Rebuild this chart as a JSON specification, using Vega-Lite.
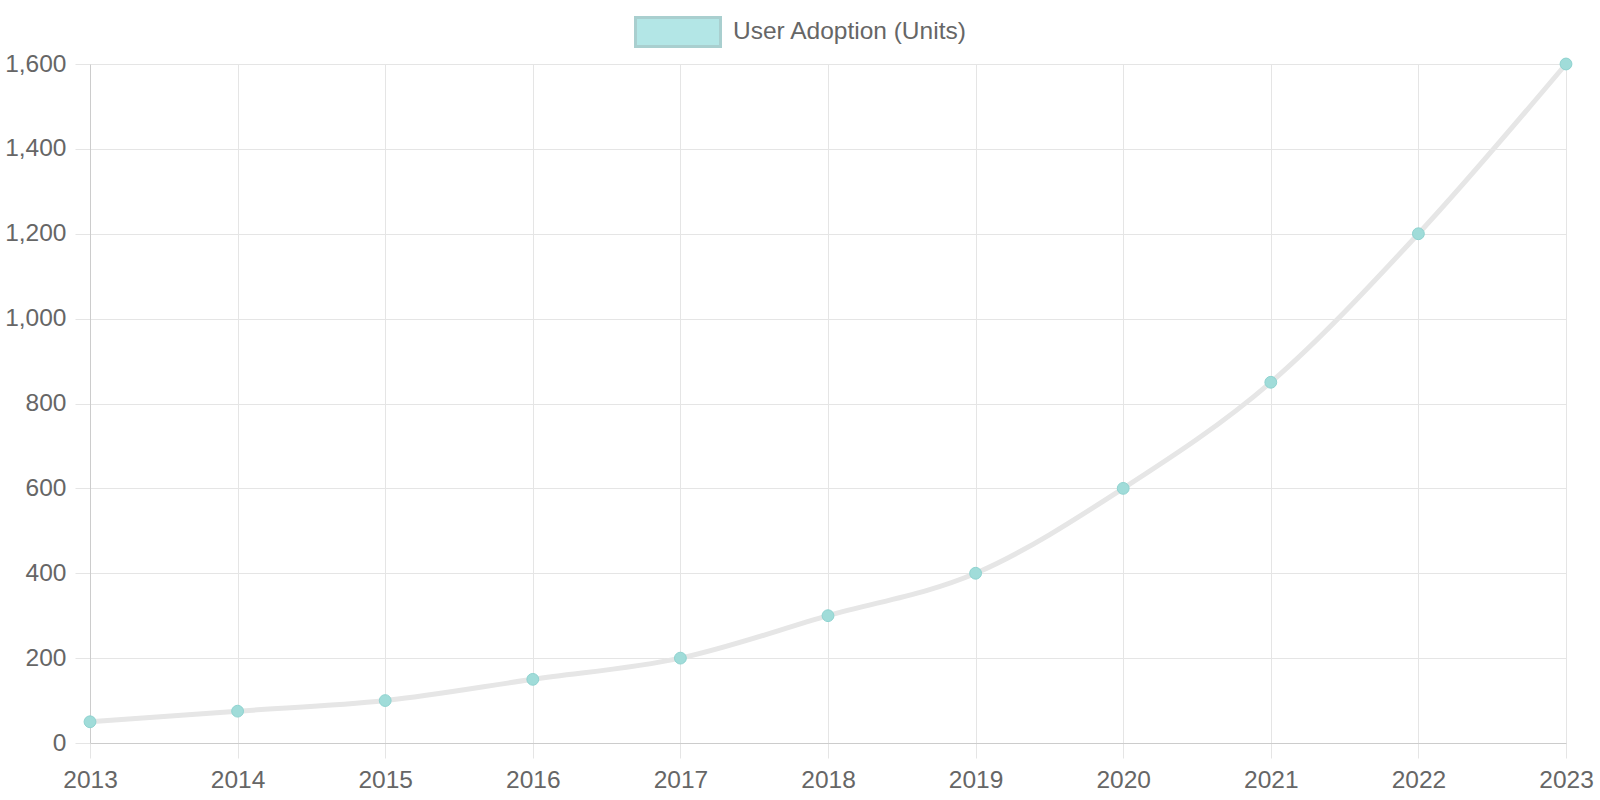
{
  "$schema": "https://vega.github.io/schema/vega-lite/v6.json",
  "width": 1476,
  "height": 679,
  "autosize": "none",
  "padding": {"left": 90, "top": 64, "right": 34, "bottom": 57},
  "background": "white",
  "config": {
    "view": {"stroke": null},
    "font": "Liberation Sans"
  },
  "data": {
    "values": [
      {"year": "2013", "units": 50},
      {"year": "2014", "units": 75},
      {"year": "2015", "units": 100},
      {"year": "2016", "units": 150},
      {"year": "2017", "units": 200},
      {"year": "2018", "units": 300},
      {"year": "2019", "units": 400},
      {"year": "2020", "units": 600},
      {"year": "2021", "units": 850},
      {"year": "2022", "units": 1200},
      {"year": "2023", "units": 1600}
    ]
  },
  "encoding": {
    "x": {
      "field": "year",
      "type": "ordinal",
      "scale": {"type": "point", "padding": 0},
      "axis": {
        "title": null,
        "labelAngle": 0,
        "labelFontSize": 24.5,
        "labelColor": "#666666",
        "labelPadding": 10,
        "tickSize": 15,
        "tickColor": "#e5e5e5",
        "grid": true,
        "gridColor": "#e5e5e5",
        "domainColor": "#cccccc",
        "labelFont": "Liberation Sans"
      }
    },
    "y": {
      "field": "units",
      "type": "quantitative",
      "scale": {"domain": [0, 1600], "nice": false},
      "axis": {
        "title": null,
        "values": [0, 200, 400, 600, 800, 1000, 1200, 1400, 1600],
        "format": ",.0f",
        "labelFontSize": 24.5,
        "labelColor": "#666666",
        "labelPadding": 9,
        "tickSize": 15,
        "tickColor": "#e5e5e5",
        "grid": true,
        "gridColor": "#e5e5e5",
        "domainColor": "#cccccc",
        "labelFont": "Liberation Sans"
      }
    }
  },
  "layer": [
    {
      "mark": {"type": "point", "filled": true, "size": 0, "stroke": "#a9cfcf", "strokeWidth": 3, "opacity": 1},
      "encoding": {
        "fill": {
          "datum": "User Adoption (Units)",
          "type": "nominal",
          "scale": {"range": ["#b3e6e6"]},
          "legend": {
            "title": null,
            "orient": "none",
            "legendX": 544,
            "legendY": -76,
            "padding": 0,
            "symbolType": "M-1,-0.341H1V0.341H-1Z",
            "symbolSize": 7225,
            "symbolStrokeWidth": 3,
            "symbolStrokeColor": "#a9cfcf",
            "symbolOpacity": 1,
            "labelFontSize": 24.5,
            "labelLimit": 500,
            "labelColor": "#666666",
            "labelFont": "Liberation Sans",
            "labelOffset": 11
          }
        }
      }
    },
    {
      "mark": {"type": "line", "interpolate": "monotone", "color": "#e6e6e6", "strokeWidth": 5}
    },
    {
      "mark": {"type": "point", "filled": true, "size": 140, "opacity": 1, "fill": "#a0dcd9", "stroke": "#8fd3d0", "strokeWidth": 1}
    }
  ]
}
